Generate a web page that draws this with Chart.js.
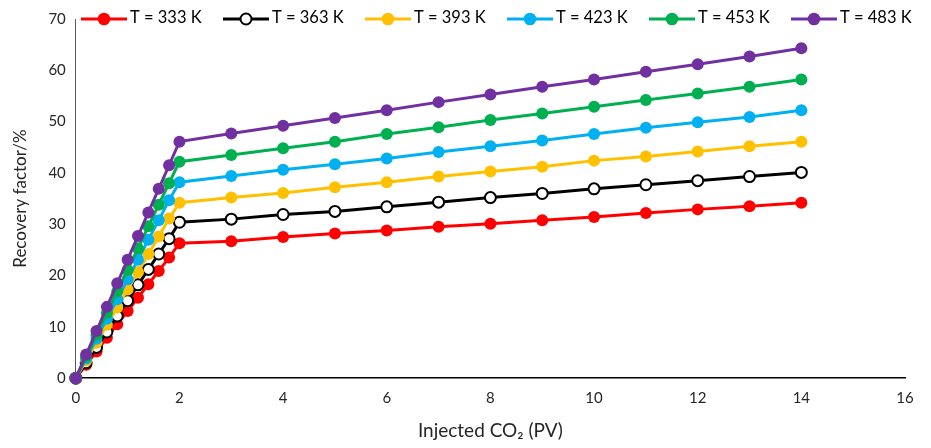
<!DOCTYPE html>
<html>
<head>
<meta charset="utf-8">
<script src="https://cdn.jsdelivr.net/npm/chart.js@4/dist/chart.umd.min.js"></script>
<style>
  html, body { margin: 0; padding: 0; background: #fff; }
</style>
</head>
<body>
<canvas id="chart" width="931" height="448"></canvas>
<script>
// injected CO2 (PV)
const injected = [0, 0.2, 0.4, 0.6, 0.8, 1.0, 1.2, 1.4, 1.6, 1.8, 2, 3, 4, 5, 6, 7, 8, 9, 10, 11, 12, 13, 14];

// recovery factor (%) for each temperature
const rf333 = [0, 2.6, 5.2, 7.9, 10.5, 13.1, 15.7, 18.3, 20.9, 23.5, 26.3, 26.7, 27.5, 28.2, 28.8, 29.5, 30.1, 30.8, 31.4, 32.2, 32.9, 33.5, 34.2];
const rf363 = [0, 3.0, 6.0, 9.0, 12.1, 15.1, 18.2, 21.2, 24.2, 27.2, 30.4, 31.0, 31.9, 32.5, 33.4, 34.3, 35.2, 36.0, 36.9, 37.7, 38.5, 39.3, 40.1];
const rf393 = [0, 3.45, 6.9, 10.4, 13.8, 17.3, 20.7, 24.2, 27.6, 31.1, 34.2, 35.2, 36.1, 37.2, 38.2, 39.3, 40.3, 41.2, 42.4, 43.2, 44.2, 45.2, 46.1];
const rf423 = [0, 3.85, 7.7, 11.6, 15.4, 19.3, 23.1, 27.0, 30.8, 34.7, 38.2, 39.4, 40.6, 41.7, 42.8, 44.1, 45.2, 46.3, 47.6, 48.8, 49.9, 50.9, 52.2];
const rf453 = [0, 4.2, 8.4, 12.7, 16.9, 21.1, 25.3, 29.6, 33.8, 38.0, 42.2, 43.5, 44.8, 46.1, 47.6, 48.9, 50.3, 51.6, 52.9, 54.2, 55.5, 56.8, 58.2];
const rf483 = [0, 4.6, 9.2, 13.9, 18.5, 23.1, 27.7, 32.3, 36.9, 41.5, 46.1, 47.7, 49.2, 50.7, 52.2, 53.8, 55.3, 56.8, 58.2, 59.7, 61.2, 62.7, 64.3];

const labels = ['T = 333 K', 'T = 363 K', 'T = 393 K', 'T = 423 K', 'T = 453 K', 'T = 483 K'];
const colors = ['#FF0000', '#000000', '#FFC000', '#00B0F0', '#00B050', '#7030A0'];
const series = [rf333, rf363, rf393, rf423, rf453, rf483];

const FONT = 'Lato';

const datasets = series.map((arr, i) => ({
  label: labels[i],
  data: injected.map((x, k) => ({ x, y: arr[k] })),
  borderColor: colors[i],
  backgroundColor: colors[i],
  borderWidth: 3,
  pointRadius: i === 1 ? 5.5 : 6,
  pointBackgroundColor: i === 1 ? '#fff' : colors[i],
  pointBorderColor: colors[i],
  pointBorderWidth: i === 1 ? 2 : 0,
  tension: 0,
  clip: false,
  order: series.length - i   // fioletowa seria rysowana na wierzchu
}));

// legenda jak w Excelu: linia z kółkiem, na wysokości górnej krawędzi wykresu
const excelLegend = {
  id: 'excelLegend',
  afterDraw(chart) {
    const ctx = chart.ctx;
    ctx.save();
    ctx.font = '16.5px ' + FONT;
    ctx.textBaseline = 'middle';
    ctx.textAlign = 'left';
    chart.data.datasets.forEach((ds, i) => {
      const x0 = 81 + 142 * i;
      const y = 19;
      ctx.strokeStyle = ds.borderColor;
      ctx.lineWidth = 3;
      ctx.beginPath();
      ctx.moveTo(x0, y);
      ctx.lineTo(x0 + 46, y);
      ctx.stroke();
      ctx.beginPath();
      if (ds.pointBackgroundColor === '#fff') {
        ctx.arc(x0 + 23, y, 5.5, 0, Math.PI * 2);
        ctx.fillStyle = '#fff';
        ctx.fill();
        ctx.lineWidth = 2;
        ctx.stroke();
      } else {
        ctx.arc(x0 + 23, y, 6.3, 0, Math.PI * 2);
        ctx.fillStyle = ds.borderColor;
        ctx.fill();
      }
      ctx.fillStyle = '#000';
      ctx.fillText(ds.label, x0 + 49, 17.5);
    });
    ctx.restore();
  }
};

new Chart(document.getElementById('chart'), {
  type: 'line',
  data: { datasets },
  plugins: [excelLegend],
  options: {
    responsive: false,
    devicePixelRatio: 1,
    animation: false,
    layout: { padding: { left: 0, right: 26, top: 19, bottom: 2 } },
    plugins: {
      tooltip: { enabled: false },
      legend: { display: false }
    },
    scales: {
      x: {
        type: 'linear',
        min: 0,
        max: 16,
        ticks: { stepSize: 2, padding: 11, color: '#262626', font: { family: FONT, size: 15 } },
        grid: { display: false, drawTicks: false },
        border: { display: true, color: '#000', width: 1.5 },
        title: {
          display: true,
          text: 'Injected CO₂ (PV)',
          color: '#262626',
          font: { family: FONT, size: 19 },
          padding: { top: 1, bottom: 4 }
        }
      },
      y: {
        min: 0,
        max: 70,
        ticks: { stepSize: 10, padding: 10, color: '#262626', font: { family: FONT, size: 15 } },
        grid: { display: false, drawTicks: false },
        border: { display: true, color: '#595959', width: 1 },
        title: {
          display: true,
          text: 'Recovery factor/%',
          color: '#262626',
          font: { family: FONT, size: 17 },
          padding: { top: 10, bottom: 8 }
        }
      }
    }
  }
});
</script>
</body>
</html>
